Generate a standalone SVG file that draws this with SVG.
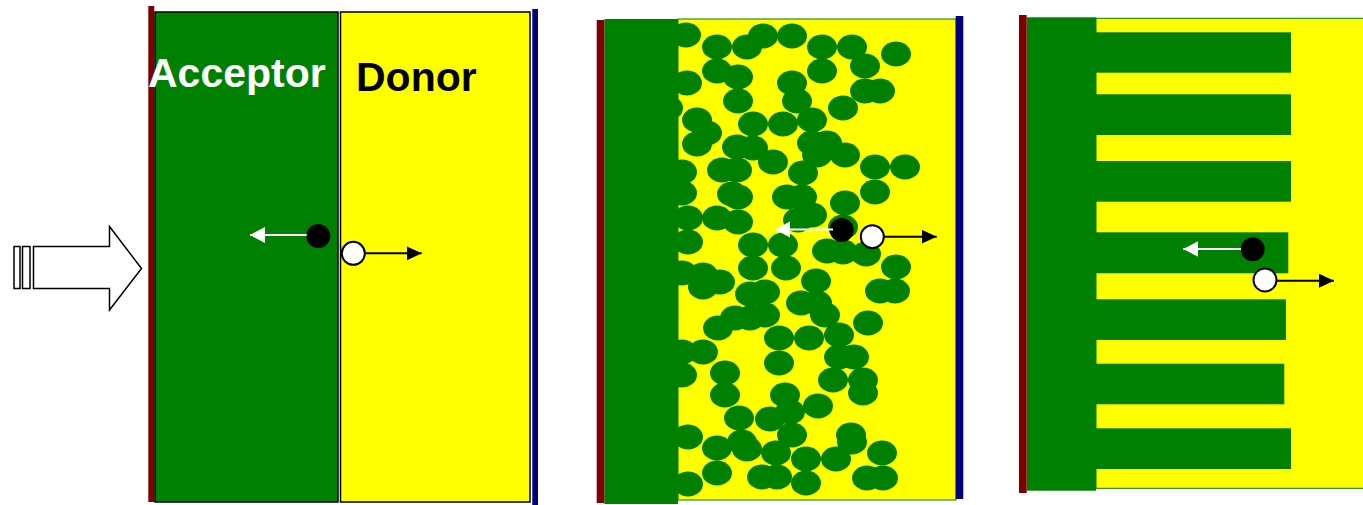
<svg xmlns="http://www.w3.org/2000/svg" width="1363" height="505" viewBox="0 0 1363 505">
<defs>
<style>
.g{fill:#008000}
.y{fill:#ffff00}
.r{fill:#800000}
.b{fill:#000080}
.bl{fill:#008000}
.wline{stroke:#fff;stroke-width:2;fill:none}
.kline{stroke:#000;stroke-width:2;fill:none}
.hole{fill:#fff;stroke:#000;stroke-width:2}
.el{fill:#000}
.lbl{font-family:"Liberation Sans",Arial,sans-serif;font-weight:bold;font-size:41px}
</style>
<marker id="ahW" markerUnits="userSpaceOnUse" markerWidth="16" markerHeight="18" refX="15" refY="8" orient="auto"><path d="M0,0 L15,8 L0,16 Z" fill="#fff"/></marker>
<marker id="ahK" markerUnits="userSpaceOnUse" markerWidth="16" markerHeight="16" refX="15" refY="7" orient="auto"><path d="M0,0 L15,7 L0,14 Z" fill="#000"/></marker>
</defs>
<rect width="1363" height="505" fill="#fff"/>

<g id="light">
<path d="M33.5,246.5 H109.5 V226.5 L141.5,268.5 L109.5,310 V288.5 H33.5 Z" fill="#fff" stroke="#000" stroke-width="1.5"/>
<rect x="14" y="246.5" width="6" height="42" fill="#fff" stroke="#000" stroke-width="1.5"/>
<rect x="22.5" y="246.5" width="7.5" height="42" fill="#fff" stroke="#000" stroke-width="1.5"/>
</g>

<g id="bilayer">
<rect x="148.3" y="6" width="6" height="496" class="r"/>
<rect x="155" y="12" width="183" height="490" class="g" stroke="#000" stroke-width="1.5"/>
<rect x="340.5" y="12" width="189.5" height="490" class="y" stroke="#000" stroke-width="1.5"/>
<rect x="532.3" y="9" width="5.7" height="496" class="b"/>
<text x="148" y="87" class="lbl" fill="#fff">Acceptor</text>
<text x="356" y="91" class="lbl" fill="#000">Donor</text>
<circle cx="318.3" cy="236" r="12" class="el"/>
<circle cx="353.3" cy="253.3" r="11.5" class="hole"/>
</g>

<g id="bulk-heterojunction">
<rect x="678" y="19" width="278" height="481" class="y" stroke="#008000" stroke-width="1"/>
<g class="bl">
<ellipse cx="686" cy="35" rx="15" ry="12.5"/><ellipse cx="717" cy="47" rx="15" ry="12.5"/><ellipse cx="747" cy="47" rx="15" ry="12.5"/><ellipse cx="763" cy="36" rx="15" ry="12.5"/><ellipse cx="792" cy="36" rx="15" ry="12.5"/><ellipse cx="822" cy="47" rx="15" ry="12.5"/><ellipse cx="852" cy="47" rx="15" ry="12.5"/><ellipse cx="896" cy="54" rx="15" ry="12.5"/>
<ellipse cx="717" cy="71" rx="15" ry="12.5"/><ellipse cx="738" cy="77" rx="15" ry="12.5"/><ellipse cx="687" cy="83" rx="15" ry="12.5"/><ellipse cx="792" cy="83" rx="15" ry="12.5"/><ellipse cx="822" cy="71" rx="15" ry="12.5"/><ellipse cx="865" cy="66" rx="15" ry="12.5"/><ellipse cx="865" cy="91" rx="15" ry="12.5"/><ellipse cx="880" cy="91" rx="15" ry="12.5"/>
<ellipse cx="738" cy="101" rx="15" ry="12.5"/><ellipse cx="797" cy="101" rx="15" ry="12.5"/><ellipse cx="843" cy="108" rx="15" ry="12.5"/><ellipse cx="668" cy="108" rx="15" ry="12.5"/>
<ellipse cx="697" cy="120" rx="15" ry="12.5"/><ellipse cx="707" cy="133" rx="15" ry="12.5"/><ellipse cx="697" cy="144" rx="15" ry="12.5"/><ellipse cx="753" cy="124" rx="15" ry="12.5"/><ellipse cx="783" cy="124" rx="15" ry="12.5"/><ellipse cx="812" cy="120" rx="15" ry="12.5"/>
<ellipse cx="737" cy="147" rx="15" ry="12.5"/><ellipse cx="753" cy="148" rx="15" ry="12.5"/><ellipse cx="773" cy="162" rx="15" ry="12.5"/><ellipse cx="812" cy="143" rx="15" ry="12.5"/><ellipse cx="827" cy="143" rx="15" ry="12.5"/><ellipse cx="817" cy="155" rx="15" ry="12.5"/><ellipse cx="845" cy="155" rx="15" ry="12.5"/><ellipse cx="803" cy="173" rx="15" ry="12.5"/><ellipse cx="875" cy="167" rx="15" ry="12.5"/><ellipse cx="905" cy="167" rx="15" ry="12.5"/><ellipse cx="875" cy="192" rx="15" ry="12.5"/>
<ellipse cx="722" cy="170" rx="15" ry="12.5"/><ellipse cx="737" cy="170" rx="15" ry="12.5"/><ellipse cx="682" cy="172" rx="15" ry="12.5"/><ellipse cx="682" cy="193" rx="15" ry="12.5"/><ellipse cx="732" cy="194" rx="15" ry="12.5"/><ellipse cx="738" cy="197" rx="15" ry="12.5"/><ellipse cx="787" cy="197" rx="15" ry="12.5"/><ellipse cx="802" cy="197" rx="15" ry="12.5"/><ellipse cx="845" cy="203" rx="15" ry="12.5"/>
<ellipse cx="688" cy="218" rx="15" ry="12.5"/><ellipse cx="717" cy="218" rx="15" ry="12.5"/><ellipse cx="738" cy="222" rx="15" ry="12.5"/><ellipse cx="798" cy="220" rx="15" ry="12.5"/><ellipse cx="812" cy="215" rx="15" ry="12.5"/><ellipse cx="843" cy="227" rx="15" ry="12.5"/>
<ellipse cx="688" cy="242" rx="15" ry="12.5"/><ellipse cx="753" cy="245" rx="15" ry="12.5"/><ellipse cx="783" cy="245" rx="15" ry="12.5"/><ellipse cx="827" cy="251" rx="15" ry="12.5"/><ellipse cx="843" cy="252" rx="15" ry="12.5"/><ellipse cx="866" cy="254" rx="15" ry="12.5"/><ellipse cx="896" cy="267" rx="15" ry="12.5"/>
<ellipse cx="753" cy="268" rx="15" ry="12.5"/><ellipse cx="786" cy="268" rx="15" ry="12.5"/><ellipse cx="682" cy="273" rx="15" ry="12.5"/><ellipse cx="703" cy="275" rx="15" ry="12.5"/><ellipse cx="720" cy="282" rx="15" ry="12.5"/><ellipse cx="703" cy="287" rx="15" ry="12.5"/><ellipse cx="816" cy="281" rx="15" ry="12.5"/><ellipse cx="880" cy="291" rx="15" ry="12.5"/><ellipse cx="895" cy="291" rx="15" ry="12.5"/>
<ellipse cx="750" cy="294" rx="15" ry="12.5"/><ellipse cx="765" cy="292" rx="15" ry="12.5"/><ellipse cx="801" cy="303" rx="15" ry="12.5"/><ellipse cx="817" cy="303" rx="15" ry="12.5"/><ellipse cx="825" cy="315" rx="15" ry="12.5"/><ellipse cx="735" cy="318" rx="15" ry="12.5"/><ellipse cx="750" cy="318" rx="15" ry="12.5"/><ellipse cx="765" cy="315" rx="15" ry="12.5"/><ellipse cx="718" cy="328" rx="15" ry="12.5"/><ellipse cx="868" cy="323" rx="15" ry="12.5"/>
<ellipse cx="779" cy="338" rx="15" ry="12.5"/><ellipse cx="809" cy="338" rx="15" ry="12.5"/><ellipse cx="839" cy="335" rx="15" ry="12.5"/><ellipse cx="682" cy="352" rx="15" ry="12.5"/><ellipse cx="703" cy="352" rx="15" ry="12.5"/><ellipse cx="839" cy="357" rx="15" ry="12.5"/><ellipse cx="854" cy="357" rx="15" ry="12.5"/><ellipse cx="779" cy="363" rx="15" ry="12.5"/>
<ellipse cx="725" cy="373" rx="15" ry="12.5"/><ellipse cx="682" cy="375" rx="15" ry="12.5"/><ellipse cx="833" cy="380" rx="15" ry="12.5"/><ellipse cx="863" cy="380" rx="15" ry="12.5"/><ellipse cx="863" cy="393" rx="15" ry="12.5"/><ellipse cx="725" cy="395" rx="15" ry="12.5"/><ellipse cx="785" cy="395" rx="15" ry="12.5"/><ellipse cx="818" cy="406" rx="15" ry="12.5"/>
<ellipse cx="739" cy="418" rx="15" ry="12.5"/><ellipse cx="770" cy="419" rx="15" ry="12.5"/><ellipse cx="790" cy="412" rx="15" ry="12.5"/><ellipse cx="688" cy="437" rx="15" ry="12.5"/><ellipse cx="717" cy="448" rx="15" ry="12.5"/><ellipse cx="742" cy="442" rx="15" ry="12.5"/><ellipse cx="747" cy="449" rx="15" ry="12.5"/><ellipse cx="792" cy="435" rx="15" ry="12.5"/><ellipse cx="776" cy="453" rx="15" ry="12.5"/><ellipse cx="806" cy="459" rx="15" ry="12.5"/><ellipse cx="836" cy="459" rx="15" ry="12.5"/><ellipse cx="851" cy="435" rx="15" ry="12.5"/><ellipse cx="852" cy="442" rx="15" ry="12.5"/><ellipse cx="882" cy="453" rx="15" ry="12.5"/>
<ellipse cx="717" cy="473" rx="15" ry="12.5"/><ellipse cx="688" cy="484" rx="15" ry="12.5"/><ellipse cx="762" cy="477" rx="15" ry="12.5"/><ellipse cx="777" cy="477" rx="15" ry="12.5"/><ellipse cx="806" cy="483" rx="15" ry="12.5"/><ellipse cx="867" cy="478" rx="15" ry="12.5"/><ellipse cx="883" cy="478" rx="15" ry="12.5"/>
</g>
<rect x="604.3" y="19" width="73.7" height="485" class="g"/>
<rect x="596.7" y="20" width="7.6" height="483" class="r"/>
<rect x="955.7" y="16" width="7.6" height="483" class="b"/>
<circle cx="841.7" cy="230" r="12" class="el"/>
<circle cx="872.3" cy="236.7" r="11.5" class="hole"/>
</g>

<g id="ordered-heterojunction">
<rect x="1096" y="18.3" width="268" height="470" class="y" stroke="#008000" stroke-width="1"/>
<rect x="1026.7" y="17.3" width="69.3" height="473.4" class="g"/>
<rect x="1096" y="32.3" width="195" height="40.4" class="g"/>
<rect x="1096" y="94.3" width="195" height="40.7" class="g"/>
<rect x="1096" y="161" width="195" height="40.7" class="g"/>
<rect x="1096" y="232.3" width="192.3" height="41" class="g"/>
<rect x="1096" y="299.3" width="190" height="40.7" class="g"/>
<rect x="1096" y="363.7" width="188.3" height="40.6" class="g"/>
<rect x="1096" y="428.3" width="195" height="40.7" class="g"/>
<rect x="1019" y="15" width="7.7" height="478" class="r"/>
<circle cx="1252.7" cy="249.3" r="12" class="el"/>
<circle cx="1265" cy="280" r="11.5" class="hole"/>
</g>

<g id="connectors">
<line x1="306.7" y1="235" x2="250" y2="235" class="wline" marker-end="url(#ahW)"/>
<line x1="365" y1="253.3" x2="421.7" y2="253.3" class="kline" marker-end="url(#ahK)"/>
<line x1="833" y1="229.5" x2="775" y2="229.5" class="wline" marker-end="url(#ahW)"/>
<line x1="884" y1="236.7" x2="936.7" y2="236.7" class="kline" marker-end="url(#ahK)"/>
<line x1="1241" y1="249" x2="1183.3" y2="249" class="wline" marker-end="url(#ahW)"/>
<line x1="1277" y1="280.7" x2="1334" y2="280.7" class="kline" marker-end="url(#ahK)"/>
</g>
</svg>
